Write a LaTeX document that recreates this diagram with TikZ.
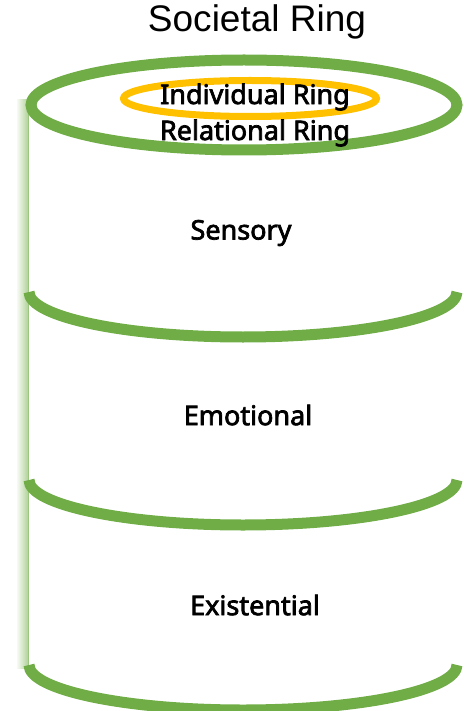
\documentclass[tikz,border=0pt]{standalone}
\usepackage{fontspec}
\setmainfont[FakeBold=2.6]{Noto Sans}
\newfontfamily\titlefont{Liberation Sans}
\usetikzlibrary{positioning}
\definecolor{ringgreen}{HTML}{70AD47}
\definecolor{ringgold}{HTML}{FFC000}

\begin{document}
\begin{tikzpicture}[x=1pt,y=-1pt,node distance=36pt]
\tikzstyle{rim}=[draw=ringgreen,line width=11pt]
\tikzstyle{layer}=[font=\fontsize{27}{32}\selectfont,inner sep=0pt]

\clip (0,0) rectangle (463,711);

% side wall of the cylinder
\shade[left color=ringgreen!6,right color=ringgreen!55] (17,100) rectangle (28,668);
\draw[ringgreen!70,line width=0.8pt] (28,100) -- (28,668);

% rims between the layers
\foreach \y in {292,480,665}
  \draw[rim] (29,\y) arc[start angle=180,end angle=0,x radius=214,y radius=45];

% top of the cylinder
\draw[rim] (244,105) ellipse[x radius=213,y radius=45];
\draw[draw=ringgold,line width=7pt] (250,98.5) ellipse[x radius=126.5,y radius=18];

\node[font=\titlefont\fontsize{37}{42}\selectfont] (societal) at (257,22) {Societal Ring};
\node[layer] (individual) at (255,97) {Individual Ring};
\node[layer] (relational) [below of = individual] {Relational Ring};
\node[layer] (sensory) at (241,233) {Sensory};
\node[layer] (emotional) at (248,415) {Emotional};
\node[layer] (existential) at (255,605) {Existential};
\end{tikzpicture}
\end{document}
